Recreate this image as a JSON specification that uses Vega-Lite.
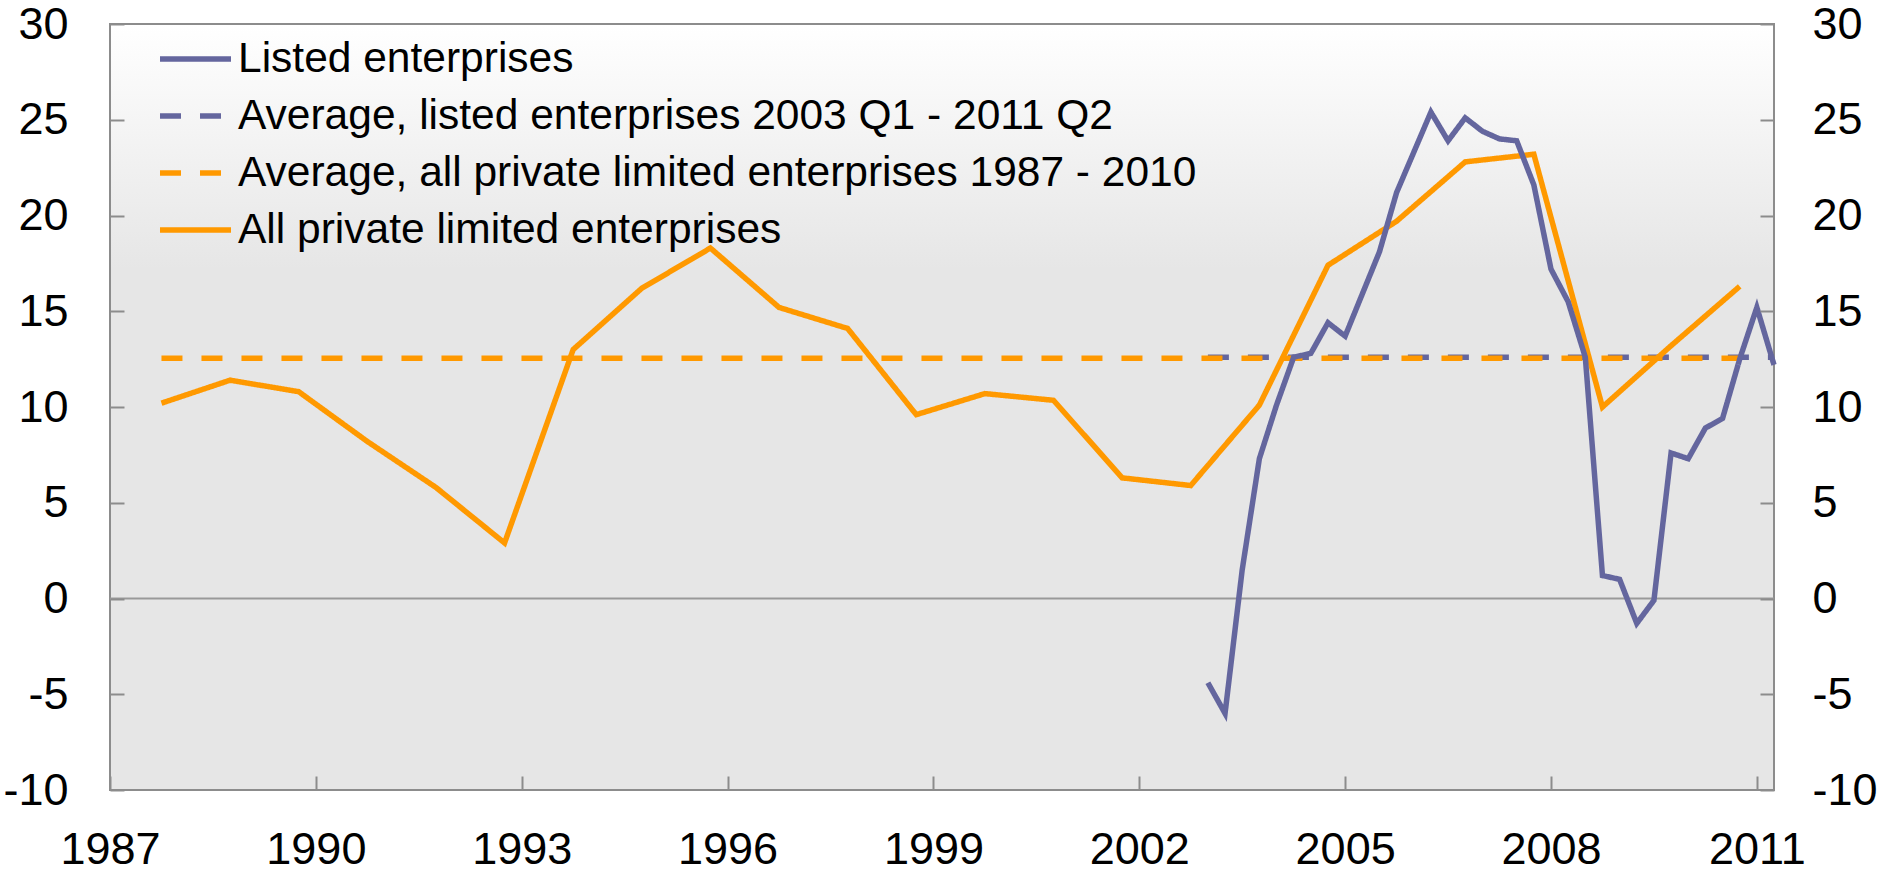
{
  "$schema": "https://vega.github.io/schema/vega-lite/v6.json",
  "width": 1664,
  "height": 766,
  "autosize": {"type": "none"},
  "padding": {"left": 110, "top": 24, "right": 109, "bottom": 90},
  "background": "white",
  "config": {
    "font": "Liberation Sans",
    "view": {"stroke": null}
  },
  "datasets": {
    "d": [
      {"series": "All private limited enterprises", "year": 1987.75, "value": 10.2},
      {"series": "All private limited enterprises", "year": 1988.75, "value": 11.4},
      {"series": "All private limited enterprises", "year": 1989.75, "value": 10.8},
      {"series": "All private limited enterprises", "year": 1990.75, "value": 8.2},
      {"series": "All private limited enterprises", "year": 1991.75, "value": 5.8},
      {"series": "All private limited enterprises", "year": 1992.75, "value": 2.9},
      {"series": "All private limited enterprises", "year": 1993.75, "value": 13.0},
      {"series": "All private limited enterprises", "year": 1994.75, "value": 16.2},
      {"series": "All private limited enterprises", "year": 1995.75, "value": 18.3},
      {"series": "All private limited enterprises", "year": 1996.75, "value": 15.2},
      {"series": "All private limited enterprises", "year": 1997.75, "value": 14.1},
      {"series": "All private limited enterprises", "year": 1998.75, "value": 9.6},
      {"series": "All private limited enterprises", "year": 1999.75, "value": 10.7},
      {"series": "All private limited enterprises", "year": 2000.75, "value": 10.35},
      {"series": "All private limited enterprises", "year": 2001.75, "value": 6.3},
      {"series": "All private limited enterprises", "year": 2002.75, "value": 5.9},
      {"series": "All private limited enterprises", "year": 2003.75, "value": 10.1},
      {"series": "All private limited enterprises", "year": 2004.75, "value": 17.4},
      {"series": "All private limited enterprises", "year": 2005.75, "value": 19.7},
      {"series": "All private limited enterprises", "year": 2006.75, "value": 22.8},
      {"series": "All private limited enterprises", "year": 2007.75, "value": 23.2},
      {"series": "All private limited enterprises", "year": 2008.75, "value": 10.0},
      {"series": "All private limited enterprises", "year": 2009.75, "value": 13.2},
      {"series": "All private limited enterprises", "year": 2010.75, "value": 16.3},
      {"series": "Average, all private limited enterprises 1987 - 2010", "year": 1987.75, "value": 12.55},
      {"series": "Average, all private limited enterprises 1987 - 2010", "year": 2010.75, "value": 12.55},
      {"series": "Average, listed enterprises 2003 Q1 - 2011 Q2", "year": 2003.0, "value": 12.6},
      {"series": "Average, listed enterprises 2003 Q1 - 2011 Q2", "year": 2011.25, "value": 12.6},
      {"series": "Listed enterprises", "year": 2003.0, "value": -4.4},
      {"series": "Listed enterprises", "year": 2003.25, "value": -6.0},
      {"series": "Listed enterprises", "year": 2003.5, "value": 1.5},
      {"series": "Listed enterprises", "year": 2003.75, "value": 7.3},
      {"series": "Listed enterprises", "year": 2004.0, "value": 10.1},
      {"series": "Listed enterprises", "year": 2004.25, "value": 12.6},
      {"series": "Listed enterprises", "year": 2004.5, "value": 12.8},
      {"series": "Listed enterprises", "year": 2004.75, "value": 14.4},
      {"series": "Listed enterprises", "year": 2005.0, "value": 13.7},
      {"series": "Listed enterprises", "year": 2005.25, "value": 15.9},
      {"series": "Listed enterprises", "year": 2005.5, "value": 18.1},
      {"series": "Listed enterprises", "year": 2005.75, "value": 21.2},
      {"series": "Listed enterprises", "year": 2006.0, "value": 23.3},
      {"series": "Listed enterprises", "year": 2006.25, "value": 25.4},
      {"series": "Listed enterprises", "year": 2006.5, "value": 23.9},
      {"series": "Listed enterprises", "year": 2006.75, "value": 25.1},
      {"series": "Listed enterprises", "year": 2007.0, "value": 24.4},
      {"series": "Listed enterprises", "year": 2007.25, "value": 24.0},
      {"series": "Listed enterprises", "year": 2007.5, "value": 23.9},
      {"series": "Listed enterprises", "year": 2007.75, "value": 21.6},
      {"series": "Listed enterprises", "year": 2008.0, "value": 17.2},
      {"series": "Listed enterprises", "year": 2008.25, "value": 15.5},
      {"series": "Listed enterprises", "year": 2008.5, "value": 12.6},
      {"series": "Listed enterprises", "year": 2008.75, "value": 1.2},
      {"series": "Listed enterprises", "year": 2009.0, "value": 1.0},
      {"series": "Listed enterprises", "year": 2009.25, "value": -1.3},
      {"series": "Listed enterprises", "year": 2009.5, "value": -0.1},
      {"series": "Listed enterprises", "year": 2009.75, "value": 7.6},
      {"series": "Listed enterprises", "year": 2010.0, "value": 7.3},
      {"series": "Listed enterprises", "year": 2010.25, "value": 8.9},
      {"series": "Listed enterprises", "year": 2010.5, "value": 9.4},
      {"series": "Listed enterprises", "year": 2010.75, "value": 12.5},
      {"series": "Listed enterprises", "year": 2011.0, "value": 15.2},
      {"series": "Listed enterprises", "year": 2011.25, "value": 12.2}
    ]
  },
  "data": {"name": "d"},
  "layer": [
    {
      "data": {"values": [{}]},
      "mark": {"type": "rect", "stroke": "#8c8c8c", "strokeWidth": 2, "fill": {"gradient": "linear", "x1": 0, "y1": 0, "x2": 0, "y2": 1, "stops": [{"offset": 0, "color": "#ffffff"}, {"offset": 0.32, "color": "#e6e6e6"}, {"offset": 1, "color": "#e6e6e6"}]}},
      "encoding": {
        "x": {"datum": 1987, "type": "quantitative", "scale": {"domain": [1987, 2011.25], "nice": false, "zero": false},
          "axis": {"orient": "bottom", "zindex": 1, "title": null, "grid": false, "domain": false, "tickSize": -14, "tickColor": "#8c8c8c", "tickWidth": 2, "labelFontSize": 45, "labelColor": "#000000", "labelFont": "Liberation Sans", "values": [1987, 1990, 1993, 1996, 1999, 2002, 2005, 2008, 2011], "labelExpr": "'' + datum.value", "labelFlush": false, "labelOverlap": false, "labelBound": false, "labelPadding": 51}},
        "x2": {"datum": 2011.25},
        "y": {"datum": 30, "type": "quantitative", "scale": {"domain": [-10, 30], "nice": false, "zero": false}, "axis": {"orient": "left", "zindex": 1, "title": null, "grid": false, "domain": false, "tickSize": -14, "tickColor": "#8c8c8c", "tickWidth": 2, "labelFontSize": 45, "labelColor": "#000000", "labelFont": "Liberation Sans", "values": [-10, -5, 0, 5, 10, 15, 20, 25, 30], "labelExpr": "'' + datum.value", "labelPadding": 56}},
        "y2": {"datum": -10}
      }
    },
    {
      "data": {"values": [{}]},
      "mark": {"type": "rule", "color": "#999999", "strokeWidth": 2},
      "encoding": {
        "y": {"datum": 0, "type": "quantitative", "axis": {"orient": "right", "zindex": 1, "title": null, "grid": false, "domain": false, "tickSize": -14, "tickColor": "#8c8c8c", "tickWidth": 2, "labelFontSize": 45, "labelColor": "#000000", "labelFont": "Liberation Sans", "values": [-10, -5, 0, 5, 10, 15, 20, 25, 30], "labelExpr": "'' + datum.value", "labelPadding": 52}}
      }
    },
    {
      "transform": [{"filter": "datum.series === 'Average, listed enterprises 2003 Q1 - 2011 Q2'"}],
      "mark": {"type": "line", "strokeWidth": 5.5, "strokeCap": "butt"},
      "encoding": {
        "x": {"field": "year", "type": "quantitative"},
        "y": {"field": "value", "type": "quantitative", "axis": null},
        "color": {"field": "series", "type": "nominal", "scale": {"domain": ["Listed enterprises", "Average, listed enterprises 2003 Q1 - 2011 Q2", "Average, all private limited enterprises 1987 - 2010", "All private limited enterprises"], "range": ["#64669e", "#64669e", "#ff9900", "#ff9900"]},
          "legend": {"title": null, "orient": "none", "legendX": 47, "legendY": 6.5, "symbolType": "stroke", "symbolSize": 5041, "symbolStrokeWidth": 5.5, "labelFontSize": 42.5, "labelFont": "Liberation Sans", "labelColor": "#000000", "labelOffset": 4, "labelLimit": 2000, "clipHeight": 57, "rowPadding": 0, "padding": 0}},
        "strokeDash": {"field": "series", "type": "nominal", "scale": {"domain": ["Listed enterprises", "Average, listed enterprises 2003 Q1 - 2011 Q2", "Average, all private limited enterprises 1987 - 2010", "All private limited enterprises"], "range": [[1, 0], [21, 19], [21, 19], [1, 0]]},
          "legend": {"title": null, "orient": "none", "legendX": 47, "legendY": 6.5, "symbolType": "stroke", "symbolSize": 5041, "symbolStrokeWidth": 5.5, "labelFontSize": 42.5, "labelFont": "Liberation Sans", "labelColor": "#000000", "labelOffset": 4, "labelLimit": 2000, "clipHeight": 57, "rowPadding": 0, "padding": 0}}
      }
    },
    {
      "transform": [{"filter": "datum.series === 'Average, all private limited enterprises 1987 - 2010'"}],
      "mark": {"type": "line", "strokeWidth": 5.5, "strokeCap": "butt"},
      "encoding": {
        "x": {"field": "year", "type": "quantitative"},
        "y": {"field": "value", "type": "quantitative", "axis": null},
        "color": {"field": "series", "type": "nominal"},
        "strokeDash": {"field": "series", "type": "nominal"}
      }
    },
    {
      "transform": [{"filter": "datum.series === 'All private limited enterprises'"}],
      "mark": {"type": "line", "strokeWidth": 5.5},
      "encoding": {
        "x": {"field": "year", "type": "quantitative"},
        "y": {"field": "value", "type": "quantitative", "axis": null},
        "color": {"field": "series", "type": "nominal"},
        "strokeDash": {"field": "series", "type": "nominal"}
      }
    },
    {
      "transform": [{"filter": "datum.series === 'Listed enterprises'"}],
      "mark": {"type": "line", "strokeWidth": 5.5},
      "encoding": {
        "x": {"field": "year", "type": "quantitative"},
        "y": {"field": "value", "type": "quantitative", "axis": null},
        "color": {"field": "series", "type": "nominal"},
        "strokeDash": {"field": "series", "type": "nominal"}
      }
    }
  ],
  "resolve": {"axis": {"y": "independent"}}
}
